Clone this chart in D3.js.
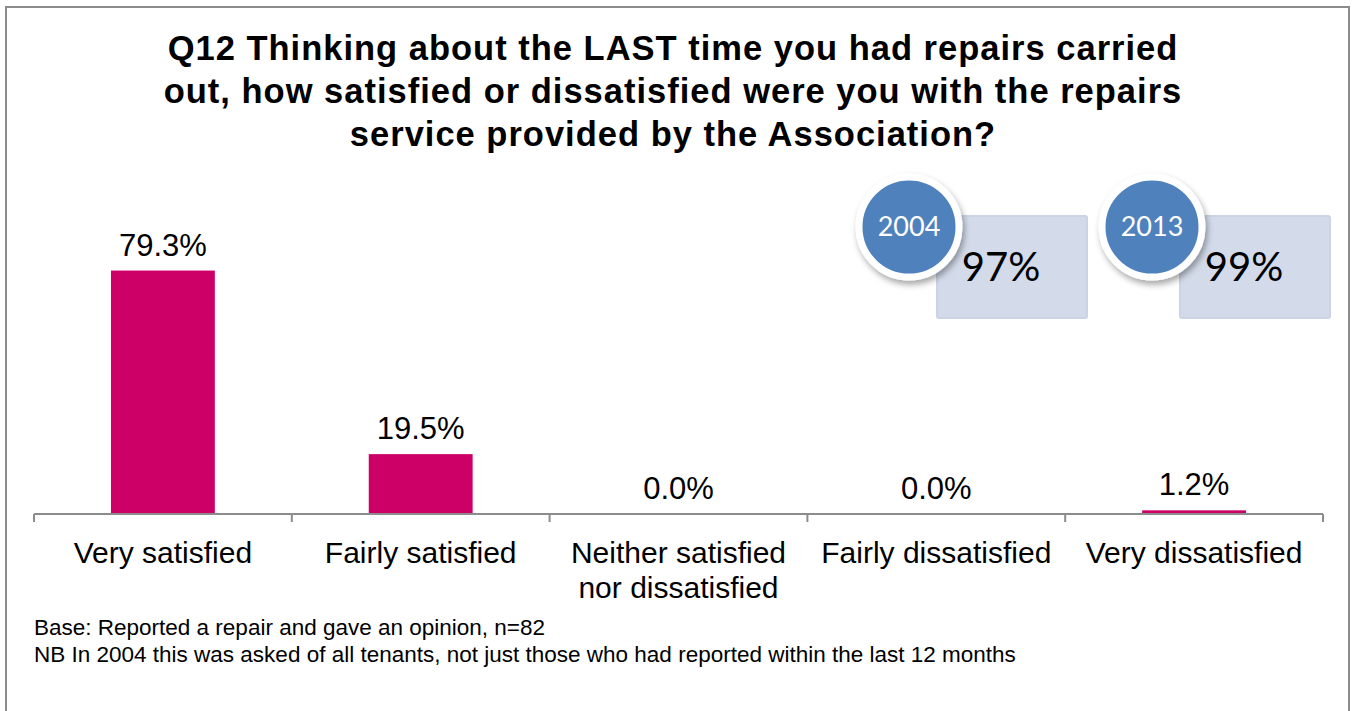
<!DOCTYPE html>
<html>
<head>
<meta charset="utf-8">
<script src="https://cdn.jsdelivr.net/npm/d3@7/dist/d3.min.js"></script>
<style>
  html, body { margin: 0; padding: 0; background: #fff; }
  svg { display: block; }
</style>
</head>
<body>
<script>
// Satisfaction with the last repair, share of respondents (%)
const categories = [
  ["Very satisfied"],
  ["Fairly satisfied"],
  ["Neither satisfied", "nor dissatisfied"],
  ["Fairly dissatisfied"],
  ["Very dissatisfied"]
];
const values = [79.3, 19.5, 0.0, 0.0, 1.2];

// Overall satisfaction in earlier and current surveys
const badgeYears = ["2004", "2013"];
const badgeValues = [97, 99];

const titleLines = [
  "Q12 Thinking about the LAST time you had repairs carried",
  "out, how satisfied or dissatisfied were you with the repairs",
  "service provided by the Association?"
];
const notes = [
  "Base: Reported a repair and gave an opinion, n=82",
  "NB In 2004 this was asked of all tenants, not just those who had reported within the last 12 months"
];

const W = 1353, H = 711;
const svg = d3.select("body").append("svg").attr("width", W).attr("height", H);

const defs = svg.append("defs");
const sh = defs.append("filter").attr("id", "shadow")
  .attr("x", "-30%").attr("y", "-30%").attr("width", "160%").attr("height", "160%");
sh.append("feDropShadow").attr("dx", 2).attr("dy", 4).attr("stdDeviation", 3)
  .attr("flood-color", "#000").attr("flood-opacity", 0.35);

// outer frame
svg.append("rect").attr("x", 6).attr("y", 7).attr("width", 1343).attr("height", 720)
  .attr("fill", "none").attr("stroke", "#8c8c8c").attr("stroke-width", 2);

// title
svg.append("text")
  .attr("text-anchor", "middle")
  .attr("font-family", "Liberation Sans, Arial, sans-serif")
  .attr("font-weight", "bold").attr("font-size", 34.5).attr("fill", "#000")
  .attr("letter-spacing", 1)
  .selectAll("tspan").data(titleLines).join("tspan")
  .attr("x", 673).attr("y", (d, i) => 60 + i * 43).text(d => d);

// chart area
const x0 = 34, x1 = 1323, baseY = 514;
const pad = 0.597;
const x = d3.scaleBand().domain(d3.range(categories.length))
  .range([x0, x1]).paddingInner(pad).paddingOuter(pad / 2);
const y = d3.scaleLinear().domain([0, 100]).range([baseY, baseY - 307]);

const g = svg.append("g");

g.selectAll("rect.bar").data(values).join("rect").attr("class", "bar")
  .attr("x", (d, i) => x(i)).attr("width", x.bandwidth())
  .attr("y", d => y(d)).attr("height", d => y(0) - y(d))
  .attr("fill", "#cc0066");

g.selectAll("text.val").data(values).join("text").attr("class", "val")
  .attr("x", (d, i) => x(i) + x.bandwidth() / 2)
  .attr("y", d => y(d) - 15)
  .attr("text-anchor", "middle")
  .attr("font-family", "Liberation Sans Narrow, Arial Narrow, Liberation Sans, sans-serif")
  .attr("font-size", 31).attr("fill", "#000")
  .text(d => d.toFixed(1) + "%");

// category axis with ticks at category boundaries
const bounds = d3.range(categories.length + 1).map(i => x0 + i * (x1 - x0) / categories.length);
g.append("line").attr("x1", x0).attr("x2", x1).attr("y1", baseY).attr("y2", baseY)
  .attr("stroke", "#8c8c8c").attr("stroke-width", 2);
g.selectAll("line.tick").data(bounds).join("line").attr("class", "tick")
  .attr("x1", d => d).attr("x2", d => d).attr("y1", baseY).attr("y2", baseY + 8)
  .attr("stroke", "#8c8c8c").attr("stroke-width", 2);

const catText = g.selectAll("text.cat").data(categories).join("text").attr("class", "cat")
  .attr("text-anchor", "middle")
  .attr("font-family", "Liberation Sans, Arial, sans-serif")
  .attr("font-size", 30).attr("fill", "#000");
catText.selectAll("tspan").data((d, i) => d.map(t => ({ t, i }))).join("tspan")
  .attr("x", d => x(d.i) + x.bandwidth() / 2)
  .attr("y", (d, j) => 563 + j * 35)
  .text(d => d.t);

// notes
svg.append("text")
  .attr("font-family", "Liberation Sans, Arial, sans-serif")
  .attr("font-size", 22.5).attr("fill", "#000")
  .selectAll("tspan").data(notes).join("tspan")
  .attr("x", 34).attr("y", (d, i) => 635 + i * 27).text(d => d);

// year badges
const badgeX = [937, 1180];
const bg = svg.selectAll("g.badge").data(badgeYears).join("g").attr("class", "badge");
bg.append("rect")
  .attr("x", (d, i) => badgeX[i]).attr("y", 216).attr("width", 150).attr("height", 102)
  .attr("rx", 2).attr("fill", "#d3dbea").attr("stroke", "#cbd3e4").attr("stroke-width", 2);
bg.append("text")
  .attr("x", (d, i) => badgeX[i] + 64).attr("y", 281)
  .attr("text-anchor", "middle")
  .attr("font-family", "Lato, Open Sans, sans-serif").attr("font-size", 40).attr("fill", "#000")
  .text((d, i) => badgeValues[i] + "%");
bg.append("circle")
  .attr("cx", (d, i) => badgeX[i] - 28).attr("cy", 227).attr("r", 50)
  .attr("fill", "#4f81bd").attr("stroke", "#fff").attr("stroke-width", 7)
  .attr("filter", "url(#shadow)");
bg.append("text")
  .attr("x", (d, i) => badgeX[i] - 28).attr("y", 236)
  .attr("text-anchor", "middle")
  .attr("font-family", "Lato, Open Sans, sans-serif").attr("font-size", 27).attr("fill", "#fff")
  .text(d => d);
</script>
</body>
</html>
